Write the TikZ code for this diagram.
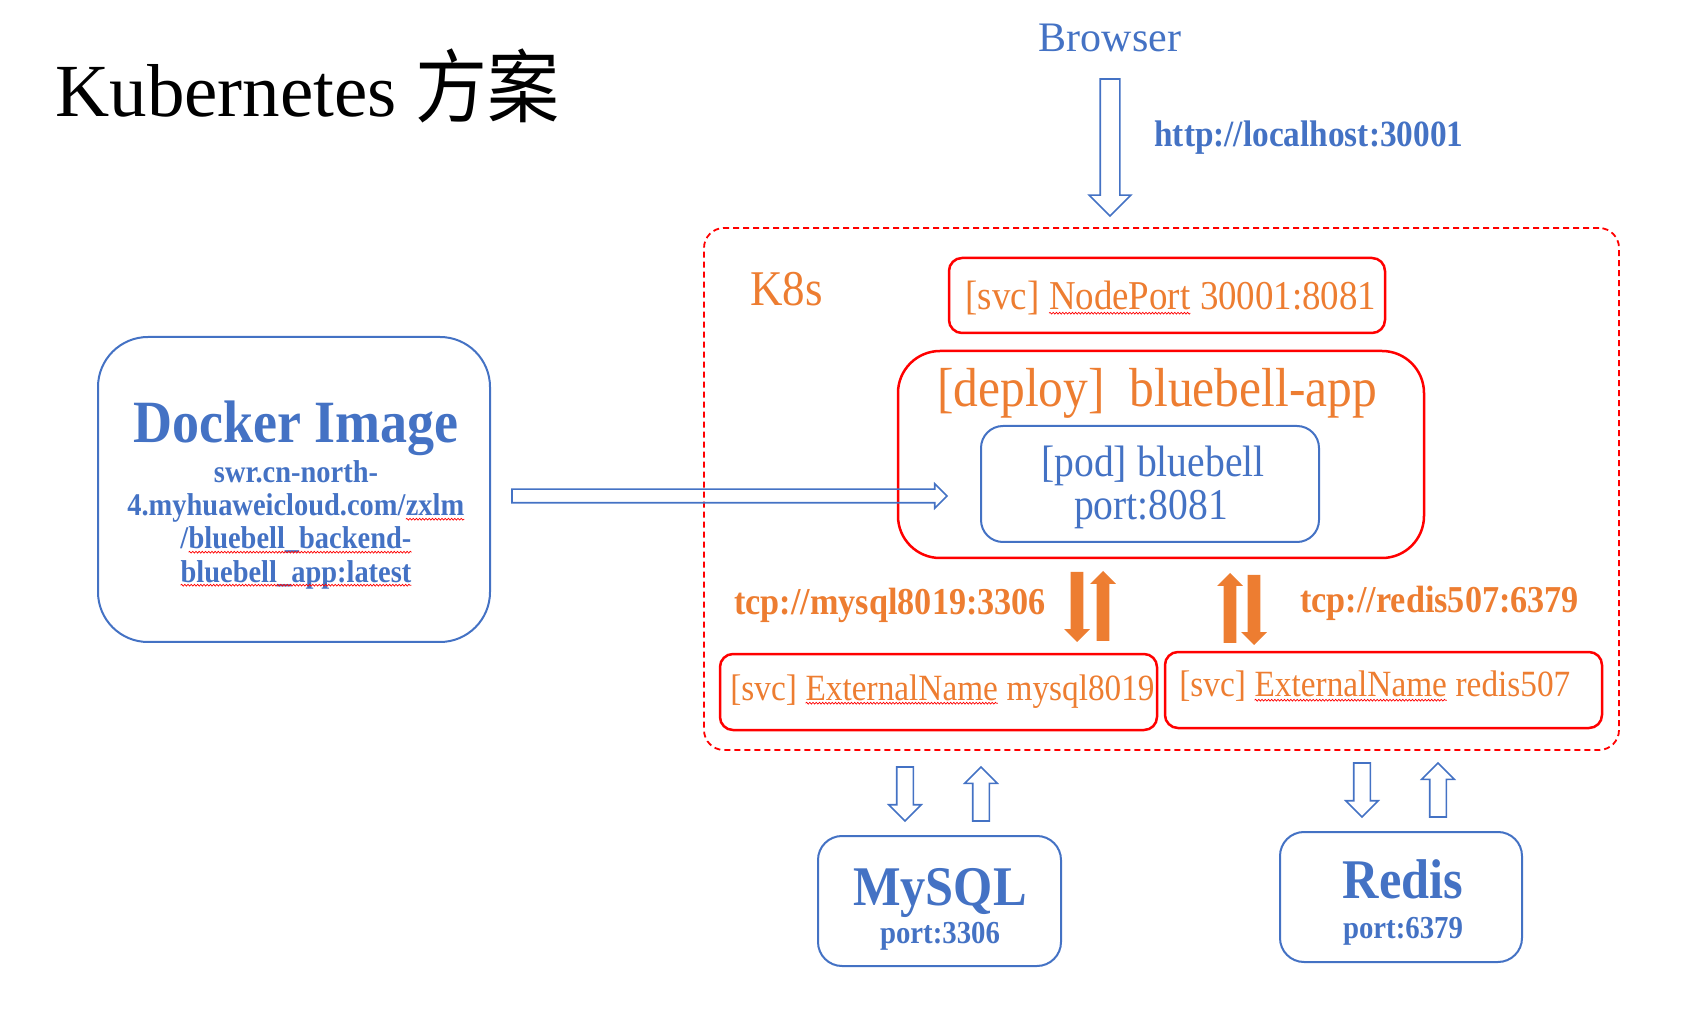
\documentclass[tikz,border=0pt]{standalone}
\usepackage{fontspec}
\setmainfont{Liberation Serif}[FakeStretch=0.9]
\newfontfamily\titlefont{Liberation Serif}
\newfontfamily\cjk{Noto Sans CJK SC}[FakeStretch=0.9]
\usepackage{xcolor}
\usetikzlibrary{shapes.arrows, decorations.pathmorphing}
\definecolor{kblue}{HTML}{4472C4}
\definecolor{korange}{HTML}{ED7D31}
\definecolor{kred}{HTML}{FF0000}
\newcommand{\fs}[1]{\fontsize{#1}{#1}\selectfont}
\newcommand{\spell}[1]{\tikz[baseline=(w.base), x=1pt, y=1pt]{\node[inner sep=0pt, outer sep=0pt, anchor=base] (w) {#1};
  \draw[kred, line width=0.35pt, decorate, decoration={snake, amplitude=0.45pt, segment length=1.6pt}] ([yshift=-1.6pt]w.base west) -- ([yshift=-1.6pt]w.base east);}}

\begin{document}
\begin{tikzpicture}[x=0.5pt, y=-0.5pt,
    txt/.style={inner sep=0pt, anchor=base},
    bluebox/.style={draw=kblue, line width=1pt},
    redbox/.style={draw=kred, line width=1.25pt},
    harrow/.style={single arrow, draw=kblue, line width=0.8pt, inner xsep=0pt, outer sep=0pt, minimum width=0pt, anchor=tail},
    farrow/.style={single arrow, fill=korange, inner xsep=0pt, inner ysep=3pt, outer sep=0pt, single arrow head extend=3.25pt, minimum width=0pt, minimum height=35pt, anchor=tail}]
  \useasboundingbox (0,0) rectangle (1704,1021);
  % title
  \node[txt, anchor=base west, font=\titlefont\fs{37.5pt}] (title) at (55,117) {Kubernetes {\cjk\fs{40pt}方案}};
  % browser
  \node[txt, text=kblue, font=\titlefont\fs{21pt}] (browser) at (1110,52) {Browser};
  \node[harrow, rotate=-90, inner ysep=4.5pt, single arrow head extend=5.5pt, minimum height=68.5pt] (brarrow) at (1110,79) {};
  \node[txt, anchor=base west, text=kblue, font=\fs{18.5pt}\bfseries] (http) at (1154,147) {http://localhost:30001};

  % k8s cluster
  \node[draw=kred, line width=0.9pt, dash pattern=on 3pt off 2pt, rounded corners=10pt, minimum width=457.5pt, minimum height=261pt] (k8s) at (1161.5,489) {};
  \node[txt, anchor=base west, text=korange, font=\fs{25pt}] (k8slabel) at (750,306) {K8s};
  \node[redbox, rounded corners=6.5pt, minimum width=218pt, minimum height=37.5pt] (nodeport) at (1167,295.5) {};
  \node[txt, text=korange, font=\fs{20.5pt}] (nodeportlabel) at (1171,310) {[svc] \spell{NodePort} 30001:8081};
  \node[redbox, rounded corners=21pt, minimum width=263pt, minimum height=103.5pt] (deploy) at (1161,454.5) {};
  \node[txt, text=korange, font=\fs{27.5pt}] (deploylabel) at (1157,407) {[deploy]\ \ bluebell-app};
  \node[bluebox, rounded corners=11pt, minimum width=169pt, minimum height=58pt] (pod) at (1150,484) {};
  \node[txt, text=kblue, font=\fs{22pt}] (podname) at (1153,477) {[pod] bluebell};
  \node[txt, text=kblue, font=\fs{22pt}] (podport) at (1151,520) {port:8081};

  % docker image
  \node[bluebox, rounded corners=25pt, minimum width=196pt, minimum height=152.5pt] (docker) at (294,489.5) {};
  \node[txt, text=kblue, font=\fs{30pt}\bfseries] (dockername) at (296,443) {Docker Image};
  \foreach \ln [count=\i] in {swr.cn-north-, 4.myhuaweicloud.com/\spell{zxlm}, /\spell{bluebell\_backend-}, \spell{bluebell\_app:latest}}
    \node[txt, text=kblue, font=\fs{15.8pt}\bfseries] (img\i) at (296,450+33*\i) {\ln};
  \node[harrow, inner ysep=3pt, single arrow head extend=2.75pt, minimum height=217.5pt] (imgarrow) at (512,496) {};

  % services to the databases
  \node[txt, anchor=base west, text=korange, font=\fs{19pt}\bfseries] (tcpsql) at (734,615) {tcp://mysql8019:3306};
  \node[txt, anchor=base west, text=korange, font=\fs{19pt}\bfseries] (tcprds) at (1300,613) {tcp://redis507:6379};
  \foreach \x/\y/\r [count=\i] in {1077/572/-90, 1103/641/90, 1230/643/90, 1254/575/-90}
    \node[farrow, rotate=\r] (tcp\i) at (\x,\y) {};
  \node[redbox, rounded corners=6.5pt, minimum width=218.5pt, minimum height=38pt] (extsql) at (938.5,692) {};
  \node[txt, anchor=base west, text=korange, font=\fs{18.5pt}] (extsqllabel) at (730,700) {[svc] \spell{ExternalName} mysql8019};
  \node[redbox, rounded corners=6.5pt, minimum width=218.5pt, minimum height=38pt] (extrds) at (1383.5,690) {};
  \node[txt, anchor=base west, text=korange, font=\fs{18.5pt}] (extrdslabel) at (1179,697) {[svc] \spell{ExternalName} redis507};

  % databases
  \foreach \x/\y/\r [count=\i] in {905/767/-90, 981/821/90, 1362/763/-90, 1438/817/90}
    \node[harrow, rotate=\r, inner ysep=3.75pt, single arrow head extend=4pt, minimum height=27pt] (db\i) at (\x,\y) {};
  \node[bluebox, rounded corners=12pt, minimum width=121.5pt, minimum height=65pt] (mysql) at (939.5,901) {};
  \node[txt, text=kblue, font=\fs{28pt}\bfseries] (mysqlname) at (940,905) {MySQL};
  \node[txt, text=kblue, font=\fs{16pt}\bfseries] (mysqlport) at (940,943) {port:3306};
  \node[bluebox, rounded corners=12pt, minimum width=121pt, minimum height=65pt] (redis) at (1401,897) {};
  \node[txt, text=kblue, font=\fs{28pt}\bfseries] (redisname) at (1403,898) {Redis};
  \node[txt, text=kblue, font=\fs{16pt}\bfseries] (redisport) at (1403,938) {port:6379};
\end{tikzpicture}
\end{document}
